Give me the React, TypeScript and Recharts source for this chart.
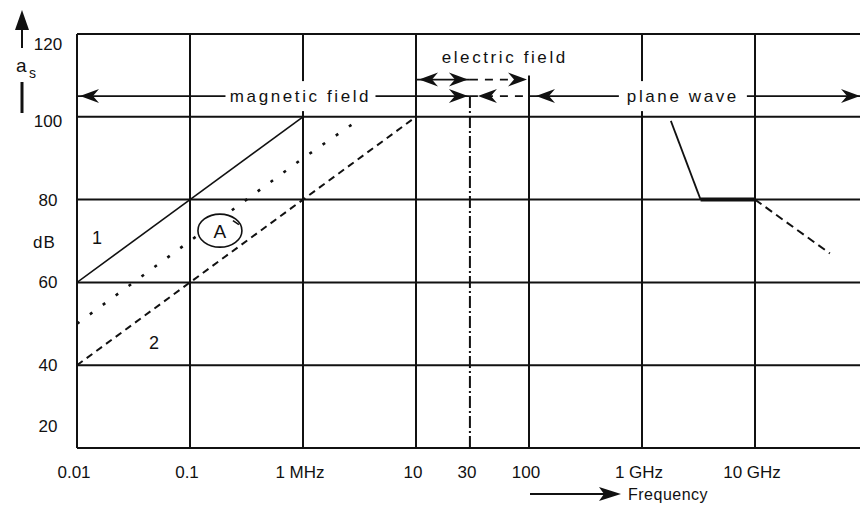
import React from 'react'
import { ComposedChart, Line, XAxis, YAxis, ReferenceLine, ReferenceDot } from 'recharts'

const FONT = '"Liberation Sans", Arial, Helvetica, sans-serif'
const INK = '#111'

// frequency axis in MHz (log scale)
const freqTicks = [0.01, 0.1, 1, 10, 30, 100, 1000, 10000]
const freqLabels = ['0.01', '0.1', '1 MHz', '10', '30', '100', '1 GHz', '10 GHz']
const solidVerticals = [0.01, 0.1, 1, 10, 1000, 10000]
const dbTicks = [20, 40, 60, 80, 100, 120]

// shielding attenuation a_s (dB) vs frequency (MHz)
const curve1 = [{ f: 0.01, a: 60 }, { f: 0.1, a: 80 }, { f: 1, a: 100 }]
const curve2 = [{ f: 0.01, a: 40 }, { f: 0.1, a: 60 }, { f: 1, a: 80 }, { f: 10, a: 100 }]
const curveA = [{ f: 0.01, a: 50 }, { f: 0.1, a: 70 }, { f: 1, a: 90 }, { f: 3.2, a: 99.5 }]
const planeSlope = [{ f: 1800, a: 99 }, { f: 3300, a: 80 }]
const planeFlat = [{ f: 3300, a: 80 }, { f: 10000, a: 80 }]
const planeTail = [{ f: 10000, a: 80 }, { f: 46000, a: 67 }]

// region arrows above the grid
const rowLow = 105
const rowHigh = 109
const planeEnd = 85000

const yLabelShift: Record<number, number> = { 120: 16, 100: 10, 20: -16 }

const DbTick = ({ x, y, payload }: any) => (
  <text x={x} y={y + (yLabelShift[payload.value] ?? 6)} textAnchor="middle" fontSize={17} fontFamily={FONT} fill={INK}>
    {payload.value}
  </text>
)

const FreqTick = ({ x, y, payload }: any) => {
  const i = freqTicks.indexOf(payload.value)
  return (
    <text x={x - 3} y={y + 22} textAnchor="middle" fontSize={17} fontFamily={FONT} fill={INK}>
      {freqLabels[i]}
    </text>
  )
}

const DbTitle = () => (
  <g fill={INK} fontFamily={FONT}>
    <polygon points="22,10 15,30 29,30" />
    <line x1={22} y1={28} x2={22} y2={48} stroke={INK} strokeWidth={2} />
    <text x={16} y={72} fontSize={19}>a</text>
    <text x={29} y={78} fontSize={14}>s</text>
    <line x1={22} y1={82} x2={22} y2={113} stroke={INK} strokeWidth={3} />
    <text x={33} y={248} fontSize={17} letterSpacing={1}>dB</text>
  </g>
)

const FreqTitle = () => (
  <g fill={INK} fontFamily={FONT}>
    <line x1={530} y1={494} x2={604} y2={494} stroke={INK} strokeWidth={2} />
    <polygon points="621,494 599,487 604,494 599,501" />
    <text x={628} y={500} fontSize={16} letterSpacing={0.5}>Frequency</text>
  </g>
)

const arrow = (o: { start?: boolean; end?: boolean; dash?: string; in1?: number; in2?: number }) => (p: any) => {
  const { x1, x2, y1 } = p
  const L = 19
  const H = 7
  const a = x1 + (o.in1 ?? 0)
  const b = x2 - (o.in2 ?? 0)
  return (
    <g>
      <line x1={x1} y1={y1} x2={x2} y2={y1} stroke={INK} strokeWidth={1.8} strokeDasharray={o.dash} />
      {o.start && <polygon points={`${a},${y1} ${a + L},${y1 - H} ${a + L - 6},${y1} ${a + L},${y1 + H}`} fill={INK} />}
      {o.end && <polygon points={`${b},${y1} ${b - L},${y1 - H} ${b - L + 6},${y1} ${b - L},${y1 + H}`} fill={INK} />}
    </g>
  )
}

const boxedText = (label: string, w: number, h: number) => (p: any) => (
  <g>
    {w > 0 && <rect x={p.cx - w / 2} y={p.cy - h / 2} width={w} height={h} fill="#fff" />}
    <text x={p.cx} y={p.cy + 6} textAnchor="middle" fontSize={17} letterSpacing={2.6} fontFamily={FONT} fill={INK}>
      {label}
    </text>
  </g>
)

const circledA = (p: any) => (
  <g>
    <ellipse cx={p.cx} cy={p.cy} rx={22} ry={16.5} fill="#fff" stroke={INK} strokeWidth={1.6} />
    <line x1={p.cx + 13} y1={p.cy - 10} x2={p.cx + 19} y2={p.cy - 6} stroke={INK} strokeWidth={1.6} />
    <text x={p.cx} y={p.cy + 7} textAnchor="middle" fontSize={19} fontFamily={FONT} fill={INK}>A</text>
  </g>
)

const plainText = (label: string) => (p: any) => (
  <text x={p.cx} y={p.cy + 7} textAnchor="middle" fontSize={18} fontFamily={FONT} fill={INK}>{label}</text>
)

export default function App() {
  return (
    <div style={{ position: 'absolute', left: 0, top: 0, width: 860, height: 511, overflow: 'hidden', background: '#fff' }}>
      <ComposedChart width={880} height={511} margin={{ top: 34, right: 12, bottom: 23, left: 0 }}>
        <XAxis
          dataKey="f" type="number" scale="log" domain={[0.01, 100000]} ticks={freqTicks} interval={0}
          allowDataOverflow axisLine={false} tickLine={false} height={40} tick={<FreqTick />} label={FreqTitle}
        />
        <YAxis
          type="number" domain={[20, 120]} ticks={dbTicks} interval={0} axisLine={false} tickLine={false}
          width={77} tickMargin={23} tick={<DbTick />} label={DbTitle}
        />

        {dbTicks.map(v => <ReferenceLine key={'h' + v} y={v} stroke={INK} strokeWidth={2} />)}
        {solidVerticals.map(v => <ReferenceLine key={'v' + v} x={v} stroke={INK} strokeWidth={2} />)}
        <ReferenceLine segment={[{ x: 100, y: 20 }, { x: 100, y: 110 }]} stroke={INK} strokeWidth={2} />
        <ReferenceLine segment={[{ x: 30, y: 20 }, { x: 30, y: rowLow }]} stroke={INK} strokeWidth={2} strokeDasharray="12 3 2 3" />

        <Line data={curve1} dataKey="a" stroke={INK} strokeWidth={1.6} dot={false} activeDot={false} isAnimationActive={false} />
        <Line data={curve2} dataKey="a" stroke={INK} strokeWidth={2} strokeDasharray="7 5" dot={false} activeDot={false} isAnimationActive={false} />
        <Line data={curveA} dataKey="a" stroke={INK} strokeWidth={2.6} strokeDasharray="3 13" dot={false} activeDot={false} isAnimationActive={false} />
        <Line data={planeSlope} dataKey="a" stroke={INK} strokeWidth={1.8} dot={false} activeDot={false} isAnimationActive={false} />
        <Line data={planeFlat} dataKey="a" stroke={INK} strokeWidth={4} dot={false} activeDot={false} isAnimationActive={false} />
        <Line data={planeTail} dataKey="a" stroke={INK} strokeWidth={2} strokeDasharray="8 5" dot={false} activeDot={false} isAnimationActive={false} />

        <ReferenceLine segment={[{ x: 0.01, y: rowLow }, { x: 30, y: rowLow }]} ifOverflow="visible" shape={arrow({ start: true, end: true, in1: 3, in2: 2 })} />
        <ReferenceLine segment={[{ x: 10, y: rowHigh }, { x: 30, y: rowHigh }]} ifOverflow="visible" shape={arrow({ start: true, end: true, in1: 3, in2: 2 })} />
        <ReferenceLine segment={[{ x: 30, y: rowHigh }, { x: 100, y: rowHigh }]} ifOverflow="visible" shape={arrow({ end: true, dash: '8 7', in2: 2 })} />
        <ReferenceLine segment={[{ x: 30, y: rowLow }, { x: 100, y: rowLow }]} ifOverflow="visible" shape={arrow({ start: true, dash: '8 7', in1: 8 })} />
        <ReferenceLine segment={[{ x: 100, y: rowLow }, { x: planeEnd, y: rowLow }]} ifOverflow="visible" shape={arrow({ start: true, end: true, in1: 7, in2: 0 })} />

        <ReferenceDot x={0.95} y={rowLow} ifOverflow="visible" shape={boxedText('magnetic field', 150, 30)} />
        <ReferenceDot x={61} y={114.5} ifOverflow="visible" shape={boxedText('electric field', 0, 0)} />
        <ReferenceDot x={2300} y={rowLow} ifOverflow="visible" shape={boxedText('plane wave', 128, 30)} />
        <ReferenceDot x={0.015} y={71} shape={plainText('1')} />
        <ReferenceDot x={0.048} y={45.6} shape={plainText('2')} />
        <ReferenceDot x={0.184} y={72.5} zIndex={1500} shape={circledA} />
      </ComposedChart>
    </div>
  )
}
